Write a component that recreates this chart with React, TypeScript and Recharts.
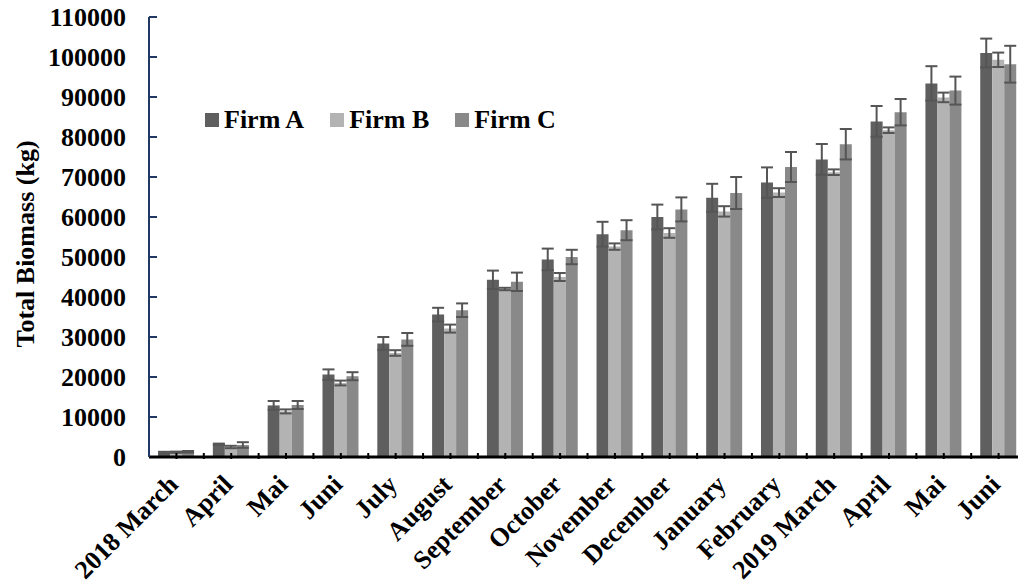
import { Bar, BarChart, XAxis, YAxis, ErrorBar, Legend } from "recharts"

const months = [
    "2018 March", "April", "Mai", "Juni", "July", "August", "September", "October",
    "November", "December", "January", "February", "2019 March", "April", "Mai", "Juni",
]
const firmA = [1100, 3200, 12900, 20600, 28400, 35600, 44300, 49400, 55700, 60000, 64800, 68600, 74400, 83900, 93400, 101000]
const firmB = [1200, 2500, 11400, 18500, 26000, 32100, 42000, 45000, 52600, 56000, 61400, 66100, 71200, 81700, 89900, 99300]
const firmC = [1300, 3000, 13000, 20200, 29400, 36700, 43800, 50000, 56700, 61900, 66000, 72500, 78200, 86200, 91600, 98200]
const errA = [200, 150, 1100, 1300, 1600, 1700, 2300, 2700, 3100, 3100, 3500, 3800, 3850, 3850, 4300, 3600]
const errB = [150, 300, 500, 600, 700, 1000, 300, 1000, 800, 1200, 1300, 1100, 700, 700, 1200, 1800]
const errC = [200, 700, 1000, 1000, 1600, 1700, 2300, 1800, 2500, 3000, 4000, 3750, 3800, 3300, 3500, 4600]
const yTicks = [0, 10000, 20000, 30000, 40000, 50000, 60000, 70000, 80000, 90000, 100000, 110000]

const data = months.map((m, i) => ({
    name: m,
    a: firmA[i],
    b: firmB[i],
    c: firmC[i],
    errA: errA[i],
    errB: errB[i],
    errC: errC[i],
}))

const FONT = "'Liberation Serif', 'Times New Roman', serif"
const FS = 26
const W = 1030
const H = 588
const YW = 149
const RIGHT = 4
const TOP = 17
const AXIS_Y = 457
const BAND = (W - YW - RIGHT) / months.length

const series = [
    { key: "a", err: "errA", name: "Firm A", color: "#5f5f5f" },
    { key: "b", err: "errB", name: "Firm B", color: "#b3b3b3" },
    { key: "c", err: "errC", name: "Firm C", color: "#898989" },
]

function XTick(props: any) {
    const { x, y, payload } = props
    const tx = x + 3
    const ty = y + 27
    return (
        <g>
            <line x1={x} y1={y} x2={x} y2={y - 6} stroke="#000" strokeWidth={2} />
            <line x1={x + BAND / 2} y1={y} x2={x + BAND / 2} y2={y - 6} stroke="#000" strokeWidth={2} />
            <text
                x={tx}
                y={ty}
                textAnchor="end"
                transform={`rotate(-45, ${tx}, ${ty})`}
                fontFamily={FONT}
                fontWeight="bold"
                fontSize={FS}
                fill="#000"
            >
                {payload.value}
            </text>
        </g>
    )
}

function YTick(props: any) {
    const { x, y, payload } = props
    return (
        <g>
            {payload.value > 0 && (
                <line x1={x + 23} y1={y} x2={x + 31} y2={y} stroke="#203864" strokeWidth={2} />
            )}
            <text x={x} y={y} dy="0.35em" textAnchor="end" fontFamily={FONT} fontWeight="bold" fontSize={FS} fill="#000">
                {payload.value}
            </text>
        </g>
    )
}

function LegendBox() {
    return (
        <div style={{ display: "flex", alignItems: "center", fontFamily: FONT, fontWeight: "bold", fontSize: FS }}>
            {series.map((s) => (
                <div key={s.key} style={{ display: "flex", alignItems: "center", marginRight: 26 }}>
                    <span style={{ width: 14, height: 14, background: s.color, marginRight: 5, display: "inline-block" }} />
                    <span style={{ lineHeight: "26px", whiteSpace: "nowrap" }}>{s.name}</span>
                </div>
            ))}
        </div>
    )
}

export default function App() {
    return (
        <div style={{ position: "fixed", top: 0, left: 0, width: 1018, height: H, overflow: "hidden", background: "#fff" }}>
            <BarChart
                width={W}
                height={H}
                data={data}
                margin={{ top: TOP, right: RIGHT, left: 0, bottom: 0 }}
                barCategoryGap="16.5%"
                barGap={0}
            >
                <XAxis
                    dataKey="name"
                    height={H - AXIS_Y}
                    interval={0}
                    tickSize={0}
                    tickLine={false}
                    axisLine={{ stroke: "#000", strokeWidth: 3 }}
                    tick={<XTick />}
                />
                <YAxis
                    width={YW}
                    domain={[0, 110000]}
                    ticks={yTicks}
                    interval={0}
                    tickSize={0}
                    tickMargin={23}
                    tickLine={false}
                    axisLine={{ stroke: "#203864", strokeWidth: 2 }}
                    tick={<YTick />}
                    label={({ viewBox }: any) => {
                        const cx = 25
                        const cy = viewBox.y + viewBox.height / 2 + 7
                        return (
                            <text
                                x={cx}
                                y={cy}
                                textAnchor="middle"
                                dominantBaseline="central"
                                transform={`rotate(-90, ${cx}, ${cy})`}
                                fontFamily={FONT}
                                fontWeight="bold"
                                fontSize={FS}
                                fill="#000"
                            >
                                Total Biomass (kg)
                            </text>
                        )
                    }}
                />
                <Legend
                    layout="horizontal"
                    verticalAlign="middle"
                    align="center"
                    content={<LegendBox />}
                    wrapperStyle={{ top: 107, left: 205, width: "auto" }}
                />
                {series.map((s) => (
                    <Bar key={s.key} dataKey={s.key} name={s.name} fill={s.color} isAnimationActive={false}>
                        <ErrorBar dataKey={s.err} width={6} stroke="#555555" strokeWidth={2} isAnimationActive={false} />
                    </Bar>
                ))}
            </BarChart>
        </div>
    )
}
